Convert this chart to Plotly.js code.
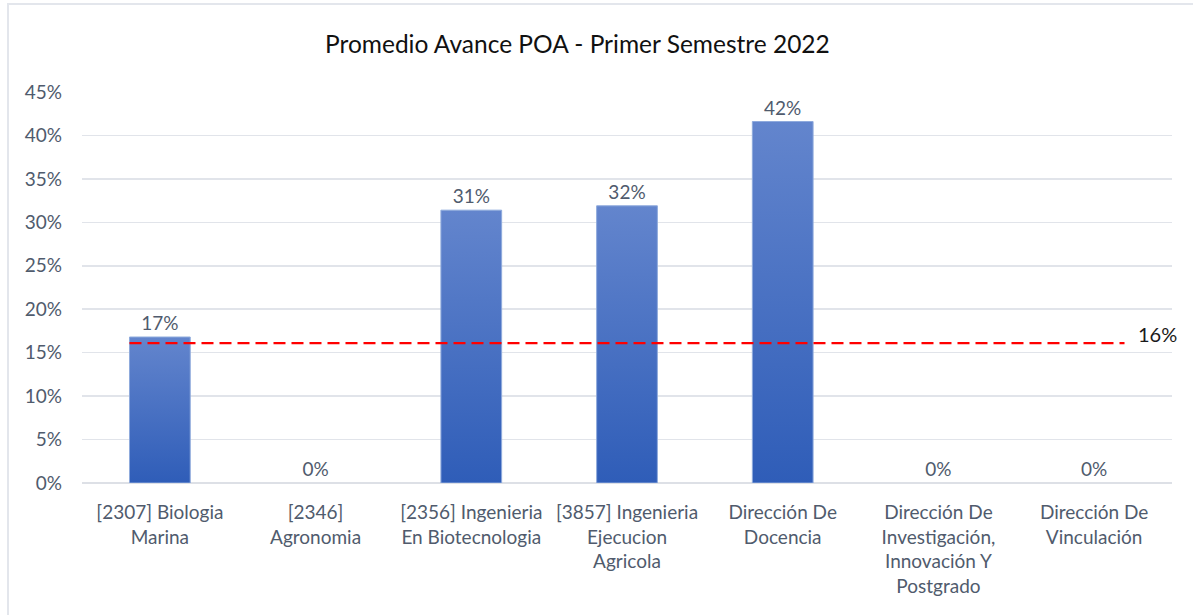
<!DOCTYPE html>
<html>
<head>
<meta charset="utf-8">
<script src="https://cdn.plot.ly/plotly-3.0.1.min.js"></script>
<style>
  html, body { margin: 0; padding: 0; background: #ffffff; }
  #wrap { position: relative; width: 1193px; height: 615px; overflow: hidden; }
  #chart { position: absolute; left: 0; top: 0; width: 1193px; height: 615px; }
  #frame { position: absolute; left: 7px; top: 3px; width: 1200px; height: 640px;
           border: 2px solid #e3e6ec; box-sizing: border-box; pointer-events: none; }
</style>
</head>
<body>
<div id="wrap">
  <div id="chart"></div>
  <div id="frame"></div>
</div>
<script>
// ---- data ----
const categories = [
  "[2307] Biologia<br>Marina",
  "[2346]<br>Agronomia",
  "[2356] Ingenieria<br>En Biotecnologia",
  "[3857] Ingenieria<br>Ejecucion<br>Agricola",
  "Dirección De<br>Docencia",
  "Dirección De<br>Investigación,<br>Innovación Y<br>Postgrado",
  "Dirección De<br>Vinculación"
];
const avance = [0.168, 0, 0.314, 0.319, 0.416, 0, 0];
const promedio = 0.161;
const promedioLabel = "16%";
const yTickVals = [0, 0.05, 0.10, 0.15, 0.20, 0.25, 0.30, 0.35, 0.40, 0.45];

// ---- styles ----
const textColor = "#505b6d";
const fontFam = "Lato, 'Open Sans', sans-serif";
const bargap = 0.61;
const half = (1 - bargap) / 2;

const xIdx = categories.map((_, i) => i);

const trace = {
  type: "bar",
  x: xIdx,
  y: avance,
  marker: { color: "#4472c4", line: { color: "#8eaadc", width: avance.map(v => v > 0 ? 1 : 0) } },
  texttemplate: "%{y:.0%}",
  textposition: "outside",
  cliponaxis: false,
  textfont: { family: fontFam, size: 19, color: textColor },
  hoverinfo: "x+y"
};

const layout = {
  width: 1193,
  height: 615,
  paper_bgcolor: "#ffffff",
  plot_bgcolor: "#ffffff",
  margin: { l: 82, r: 21, t: 92, b: 132 },
  showlegend: false,
  bargap: bargap,
  title: {
    text: "Promedio Avance POA - Primer Semestre 2022",
    font: { family: fontFam, size: 24.5, color: "#111111" },
    xref: "container", x: 0.484, xanchor: "center",
    yref: "container", y: 1 - 44 / 615, yanchor: "middle"
  },
  xaxis: {
    tickmode: "array",
    tickvals: xIdx,
    ticktext: categories,
    range: [-0.5, categories.length - 0.5],
    showgrid: false,
    zeroline: false,
    showline: false,
    ticks: "",
    ticklabelstandoff: 16,
    tickfont: { family: fontFam, size: 19, color: textColor },
    fixedrange: true
  },
  yaxis: {
    range: [0, 0.45],
    tickmode: "array",
    tickvals: yTickVals,
    tickformat: ".0%",
    showgrid: true,
    gridcolor: "#e1e4ea",
    gridwidth: 1.5,
    zeroline: true,
    zerolinecolor: "#dde0e6",
    zerolinewidth: 2,
    showline: false,
    ticks: "",
    ticklabelstandoff: 19,
    tickfont: { family: fontFam, size: 19, color: textColor },
    fixedrange: true
  },
  shapes: [{
    type: "line",
    xref: "x", yref: "y",
    x0: xIdx[0] - half, x1: xIdx[xIdx.length - 1] + half,
    y0: promedio, y1: promedio,
    line: { color: "#ff0000", width: 2.2, dash: "12px,6px" },
    layer: "above"
  }],
  annotations: [{
    xref: "x", yref: "y",
    x: xIdx[xIdx.length - 1] + half, y: promedio,
    xanchor: "left", yanchor: "middle",
    xshift: 11, yshift: 9,
    text: promedioLabel,
    showarrow: false,
    font: { family: fontFam, size: 20, color: "#1a1a1a" }
  }]
};

Plotly.newPlot("chart", [trace], layout, { displayModeBar: false, staticPlot: true }).then(function (gd) {
  const svg = gd.querySelector("svg.main-svg");
  const ns = "http://www.w3.org/2000/svg";
  let defs = svg.querySelector("defs");
  if (!defs) { defs = document.createElementNS(ns, "defs"); svg.insertBefore(defs, svg.firstChild); }
  const grad = document.createElementNS(ns, "linearGradient");
  grad.setAttribute("id", "barGrad");
  grad.setAttribute("x1", "0"); grad.setAttribute("y1", "0");
  grad.setAttribute("x2", "0"); grad.setAttribute("y2", "1");
  const s1 = document.createElementNS(ns, "stop");
  s1.setAttribute("offset", "0"); s1.setAttribute("stop-color", "#6385cd");
  const s2 = document.createElementNS(ns, "stop");
  s2.setAttribute("offset", "1"); s2.setAttribute("stop-color", "#2f5db8");
  grad.appendChild(s1); grad.appendChild(s2);
  defs.appendChild(grad);
  gd.querySelectorAll(".barlayer .point path").forEach(function (p) {
    p.style.fill = "url(#barGrad)";
    p.style.fillOpacity = "1";
  });
});
</script>
</body>
</html>
